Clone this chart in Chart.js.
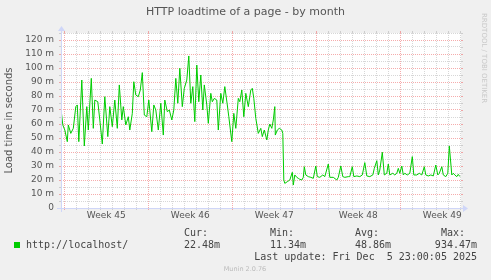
<!DOCTYPE html>
<html><head><meta charset="utf-8">
<script src="https://cdn.jsdelivr.net/npm/chart.js@4/dist/chart.umd.min.js"></script>
<style>html,body{margin:0;padding:0;background:#F0F0F0;overflow:hidden}canvas{display:block}</style>
</head><body>
<canvas id="c" width="491" height="280"></canvas>
<script>
// ---- text ----
const chartTitle = "HTTP loadtime of a page - by month";
const yAxisTitle = "Load time in seconds";
const seriesLabel = "http://localhost/";
const weekLabels = ["Week 45", "Week 46", "Week 47", "Week 48", "Week 49"];
const statHeaders = ["Cur:", "Min:", "Avg:", "Max:"];
const statValues = ["22.48m", "11.34m", "48.86m", "934.47m"];
const lastUpdate = "Last update: Fri Dec  5 23:00:05 2025";
const watermark = "Munin 2.0.76";
const sideText = "RRDTOOL / TOBI OETIKER";

// ---- axes (hours since Mon 3 Nov 00:00; values in ms) ----
const xMin = -6.6, xMax = 793.4;
const yMin = 0, yMax = 125, yStep = 5;

// ---- series ----
const hours = [
  -6, -3, 1, 6, 8, 13, 18, 23, 26, 29,
  35, 40, 45, 48, 54, 58, 61, 67, 71, 76,
  81, 87, 91, 96, 101, 106, 110, 115, 118, 123,
  128, 131, 136, 139, 143, 148, 152, 156, 160, 165,
  169, 175, 179, 183, 188, 193, 198, 201, 206, 210,
  215, 219, 223, 227, 231, 236, 240, 245, 249, 253,
  257, 261, 265, 269, 273, 277, 280, 285, 288, 293,
  296, 300, 305, 308, 313, 317, 321, 326, 329, 335,
  339, 343, 348, 351, 355, 359, 363, 368, 373, 376,
  379, 383, 388, 393, 396, 400, 405, 408, 411, 415,
  418, 421, 422, 426, 430, 435, 437, 439, 441, 446,
  451, 456, 458, 461, 465, 468, 471, 475, 478, 480,
  483, 488, 493, 498, 503, 506, 511, 517, 521, 528,
  531, 538, 545, 548, 553, 557, 561, 568, 571, 576,
  579, 585, 591, 596, 601, 605, 611, 617, 620, 625,
  628, 631, 636, 640, 645, 648, 651, 657, 661, 665,
  668, 671, 675, 678, 681, 686, 691, 696, 699, 705,
  710, 715, 720, 723, 728, 733, 738, 743, 747, 750,
  755, 758, 763, 767, 770, 775, 778, 781, 785, 788,
  791
];
const values = [
  68.8, 59.3, 55.7, 47.4, 59.3, 53.3, 56.9, 72.4, 73.6, 47.4,
  91.4, 44.3, 72.4, 55.7, 92.6, 56.9, 77.1, 75.9, 62.9, 45.7,
  79.5, 51.0, 72.4, 58.1, 77.1, 56.9, 87.9, 62.9, 72.4, 59.3,
  65.2, 55.7, 67.6, 90.2, 80.7, 79.5, 84.3, 96.7, 66.4, 65.2,
  77.1, 54.5, 73.6, 70.0, 55.7, 74.8, 52.1, 77.1, 68.8, 70.0,
  62.9, 70.0, 92.6, 74.8, 99.8, 72.4, 85.5, 91.4, 108.6, 74.8,
  86.7, 61.7, 102.1, 75.9, 95.0, 70.0, 87.9, 73.6, 60.5, 81.9,
  75.9, 78.3, 77.1, 55.7, 81.9, 74.8, 86.7, 73.6, 65.2, 47.4,
  67.6, 56.9, 78.3, 75.9, 84.3, 65.2, 81.9, 72.4, 84.3, 85.5,
  78.3, 64.0, 53.3, 56.9, 51.0, 55.7, 48.6, 55.7, 60.0, 56.9,
  62.9, 72.4, 52.1, 55.7, 56.9, 55.7, 53.3, 20.0, 17.6, 18.8,
  20.0, 25.5, 16.4, 23.6, 21.9, 21.2, 20.5, 20.0, 21.9, 29.5,
  23.6, 22.4, 21.9, 21.2, 30.0, 22.4, 21.9, 23.6, 22.4, 31.4,
  21.9, 21.9, 20.0, 21.9, 30.0, 22.4, 21.9, 22.4, 22.4, 29.5,
  22.4, 22.9, 22.4, 23.6, 32.4, 22.9, 22.4, 23.6, 28.3, 33.8,
  23.6, 27.1, 39.8, 23.6, 24.8, 31.4, 23.6, 24.8, 23.6, 24.8,
  28.3, 24.8, 30.0, 23.6, 24.8, 23.6, 24.8, 36.7, 23.6, 23.6,
  24.8, 23.6, 29.5, 23.6, 22.9, 23.6, 22.9, 30.7, 23.6, 24.8,
  29.5, 23.6, 22.4, 24.8, 44.3, 23.6, 24.8, 23.6, 22.4, 24.0,
  22.48
];

// ---- styles ----
const BG = "#F0F0F0", CANVAS_BG = "#FFFFFF";
const MAJOR = "rgba(235,90,90,0.5)", MINOR = "rgba(143,143,143,0.36)";
const AXIS = "#CFD6F8";
const LINE = "#00CC00";
const FONT_COLOR = "#555555";
const SANS = "'DejaVu Sans', sans-serif";
const MONO = "'DejaVu Sans Mono', monospace";

// tick positions
const dayTicks = [];
for (let h = 0; h <= xMax; h += 24) if (h >= xMin) dayTicks.push(h);
const weekMid = weekLabels.map((_, i) => 84 + 168 * i);
const xTickValues = dayTicks.concat(weekMid).sort((a, b) => a - b);
const yTickValues = [];
for (let v = yMin; v <= yMax; v += yStep) yTickValues.push(v);

const isWeekStart = v => v % 168 === 0;
const isDay = v => v % 24 === 0;

const decor = {
  id: 'decor',
  beforeDraw(chart) {
    const { ctx, chartArea: a } = chart;
    ctx.save();
    ctx.fillStyle = BG;
    ctx.fillRect(0, 0, chart.width, chart.height);
    ctx.fillStyle = CANVAS_BG;
    ctx.fillRect(a.left, a.top, a.right - a.left, a.bottom - a.top);
    ctx.restore();
  },
  afterDraw(chart) {
    const { ctx, chartArea: a } = chart;
    const xs = chart.scales.x, ys = chart.scales.y;
    ctx.save();
    // ticks on opposite sides
    ctx.lineWidth = 1;
    yTickValues.forEach(v => {
      const y = Math.round(ys.getPixelForValue(v)) + 0.5;
      ctx.strokeStyle = v % 10 === 0 ? MAJOR : MINOR;
      ctx.beginPath(); ctx.moveTo(a.right, y); ctx.lineTo(a.right + 2, y); ctx.stroke();
    });
    dayTicks.forEach(v => {
      const x = Math.round(xs.getPixelForValue(v)) + 0.5;
      ctx.strokeStyle = isWeekStart(v) ? MAJOR : MINOR;
      ctx.beginPath(); ctx.moveTo(x, a.top - 2); ctx.lineTo(x, a.top); ctx.stroke();
    });
    // axis lines
    ctx.strokeStyle = AXIS;
    ctx.beginPath();
    ctx.moveTo(a.left - 4, a.bottom + 0.5); ctx.lineTo(a.right + 4, a.bottom + 0.5);
    ctx.moveTo(a.left + 0.5, a.bottom + 4); ctx.lineTo(a.left + 0.5, a.top - 4);
    ctx.stroke();
    ctx.fillStyle = AXIS;
    ctx.beginPath();
    ctx.moveTo(a.right + 2, a.bottom - 3); ctx.lineTo(a.right + 2, a.bottom + 4); ctx.lineTo(a.right + 7, a.bottom + 0.5); ctx.closePath(); ctx.fill();
    ctx.beginPath();
    ctx.moveTo(a.left - 3, a.top - 2); ctx.lineTo(a.left + 4, a.top - 2); ctx.lineTo(a.left + 0.5, a.top - 7); ctx.closePath(); ctx.fill();

    // title
    ctx.fillStyle = FONT_COLOR;
    ctx.font = "11px " + SANS;
    ctx.textAlign = "center"; ctx.textBaseline = "middle";
    ctx.fillText(chartTitle, 245.5, 12);

    // legend
    ctx.font = "10px " + MONO;
    ctx.textAlign = "left"; ctx.textBaseline = "alphabetic";
    ctx.fillStyle = "#444444";
    const cols = [184, 270, 355];
    statHeaders.slice(0, 3).forEach((t, i) => ctx.fillText(t, cols[i], 236));
    statValues.slice(0, 3).forEach((t, i) => ctx.fillText(t, cols[i], 248));
    ctx.textAlign = "right";
    ctx.fillText(statHeaders[3], 465, 236);
    ctx.fillText(statValues[3], 477, 248);
    ctx.fillText(lastUpdate, 477, 260);
    ctx.textAlign = "left";
    ctx.fillText(seriesLabel, 26, 248);
    ctx.fillStyle = LINE;
    ctx.fillRect(14, 242, 6, 6);

    // watermark
    ctx.fillStyle = "#BBBBBB";
    ctx.font = "6.5px " + SANS;
    ctx.textAlign = "center"; ctx.textBaseline = "alphabetic";
    ctx.fillText(watermark, 245, 271);

    // side text
    ctx.fillStyle = "#C8C8C8";
    ctx.font = "7px " + SANS;
    ctx.translate(484, 13);
    ctx.rotate(Math.PI / 2);
    ctx.textAlign = "left"; ctx.textBaseline = "middle";
    ctx.fillText(sideText, 0, 0);
    ctx.restore();
  }
};

new Chart(document.getElementById('c'), {
  type: 'line',
  data: {
    datasets: [{
      label: seriesLabel,
      data: hours.map((h, i) => ({ x: h, y: values[i] })),
      borderColor: LINE,
      borderWidth: 1,
      pointRadius: 0,
      tension: 0,
      fill: false
    }]
  },
  options: {
    responsive: false,
    animation: false,
    events: [],
    layout: { padding: { top: 33, right: 30, left: 0, bottom: 0 } },
    plugins: { legend: { display: false }, title: { display: false }, tooltip: { enabled: false } },
    scales: {
      x: {
        type: 'linear', min: xMin, max: xMax,
        afterBuildTicks: s => { s.ticks = xTickValues.map(v => ({ value: v })); },
        afterFit: s => { s.height = 72; },
        ticks: {
          autoSkip: false, maxRotation: 0, minRotation: 0, padding: 0,
          color: FONT_COLOR, font: { family: SANS, size: 9 },
          callback: v => { const i = weekMid.indexOf(v); return i >= 0 ? weekLabels[i] : ''; }
        },
        grid: {
          color: c => isWeekStart(c.tick.value) ? MAJOR : (isDay(c.tick.value) ? MINOR : 'rgba(0,0,0,0)'),
          tickColor: c => isWeekStart(c.tick.value) ? MAJOR : (isDay(c.tick.value) ? MINOR : 'rgba(0,0,0,0)'),
          tickLength: 2, lineWidth: 1
        },
        border: { display: false, dash: [1, 1] }
      },
      y: {
        min: yMin, max: yMax,
        afterBuildTicks: s => { s.ticks = yTickValues.map(v => ({ value: v })); },
        afterFit: s => { s.width = 61; },
        ticks: {
          autoSkip: false, padding: 5,
          color: FONT_COLOR, font: { family: SANS, size: 9 },
          callback: v => v % 10 === 0 ? (v === 0 ? '0' : v + ' m') : ''
        },
        grid: {
          color: c => c.tick.value % 10 === 0 ? MAJOR : MINOR,
          tickColor: c => c.tick.value % 10 === 0 ? MAJOR : MINOR,
          tickLength: 2, lineWidth: 1
        },
        border: { display: false, dash: [1, 1] },
        title: {
          display: true, text: yAxisTitle, color: FONT_COLOR,
          font: { family: SANS, size: 10 }, padding: { top: 3, bottom: 0 }
        }
      }
    }
  },
  plugins: [decor]
});
</script>
</body></html>
